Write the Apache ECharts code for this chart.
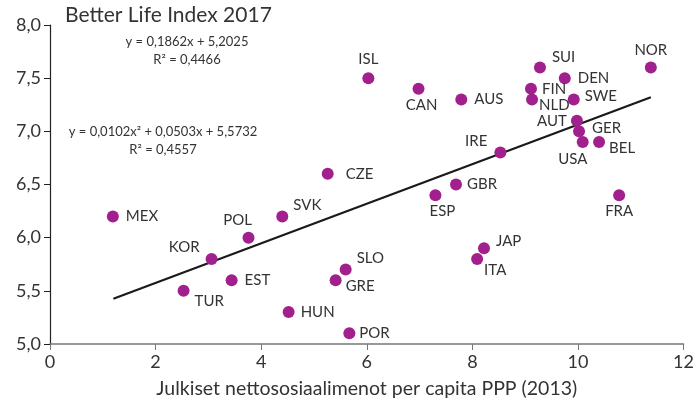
<!DOCTYPE html>
<html>
<head>
<meta charset="utf-8">
<script src="https://cdn.jsdelivr.net/npm/echarts@6/dist/echarts.min.js"></script>
<style>
  html, body { margin: 0; padding: 0; background: #fff; }
  #chart { width: 697px; height: 406px; }
</style>
</head>
<body>
<div id="chart"></div>
<script>
// maat ja arvot luettu kuvasta
const countries = ["MEX", "TUR", "KOR", "EST", "POL", "SVK", "HUN", "CZE", "GRE", "SLO",
  "POR", "ISL", "CAN", "AUS", "ESP", "GBR", "IRE", "ITA", "JAP", "FIN",
  "NLD", "SUI", "DEN", "SWE", "AUT", "GER", "USA", "BEL", "FRA", "NOR"];
const spending = [1.19, 2.53, 3.06, 3.44, 3.76, 4.40, 4.52, 5.26, 5.41, 5.60,
  5.67, 6.03, 6.98, 7.79, 7.30, 7.69, 8.53, 8.09, 8.22, 9.11,
  9.13, 9.28, 9.75, 9.92, 9.98, 10.02, 10.09, 10.40, 10.78, 11.38];
const lifeIndex = [6.2, 5.5, 5.8, 5.6, 6.0, 6.2, 5.3, 6.6, 5.6, 5.7,
  5.1, 7.5, 7.4, 7.3, 6.4, 6.5, 6.8, 5.8, 5.9, 7.4,
  7.3, 7.6, 7.5, 7.3, 7.1, 7.0, 6.9, 6.9, 6.4, 7.6];
// lineaarinen trendi: y = 0,1862x + 5,2025
const trendX = [1.2, 11.38];
const trendY = [5.426, 7.321];
const xTicks = [0, 2, 4, 6, 8, 10, 12];
const yTicks = [5.0, 5.5, 6.0, 6.5, 7.0, 7.5, 8.0];

// label placement per country: [position, dx, dy]
const labelPlace = {
  MEX: ["right", 3, 0], TUR: ["right", 1, 10], KOR: ["left", -2, -12], EST: ["right", 3, 0],
  POL: ["top", -11, 0], SVK: ["right", 1, -11], HUN: ["right", 2, 0], CZE: ["right", 8, 0],
  GRE: ["right", 0, 6], SLO: ["right", 1, -11], POR: ["right", 0, 0], ISL: ["top", 0, -2],
  CAN: ["bottom", 3, -1], AUS: ["right", 3, 0], ESP: ["bottom", 7, -1], GBR: ["right", 1, 0],
  IRE: ["left", -3, -11], ITA: ["right", -3, 11], JAP: ["right", 2, -7], FIN: ["right", 1, 0],
  NLD: ["right", -3, 6], SUI: ["right", 2, -10], DEN: ["right", 3, 0], SWE: ["right", 1, -3],
  AUT: ["left", 0, 0], GER: ["right", 3, -3], USA: ["bottom", -10, 0], BEL: ["right", 0, 6],
  FRA: ["bottom", 0, -1], NOR: ["top", 0, 0]
};

const font = "Lato, 'Noto Sans', sans-serif";
const points = countries.map((c, i) => {
  const p = labelPlace[c];
  return {
    value: [spending[i], lifeIndex[i]],
    name: c,
    label: { position: p[0], offset: [p[1], p[2]] }
  };
});

const chart = echarts.init(document.getElementById("chart"));
chart.setOption({
  animation: false,
  textStyle: { fontFamily: font },
  grid: { left: 50, right: 12, top: 25, bottom: 62 },
  xAxis: {
    type: "value",
    min: xTicks[0], max: xTicks[xTicks.length - 1], interval: 2,
    splitLine: { show: false },
    axisLine: { onZero: false, lineStyle: { color: "#777", width: 1.5 } },
    axisTick: { show: true, length: 6, lineStyle: { color: "#777" } },
    axisLabel: { color: "#333", fontSize: 18, margin: 9, fontFamily: font },
    name: "Julkiset nettososiaalimenot per capita PPP (2013)",
    nameLocation: "middle",
    nameGap: 35,
    nameTextStyle: { color: "#333", fontSize: 19.5, fontFamily: font }
  },
  yAxis: {
    type: "value",
    min: yTicks[0], max: yTicks[yTicks.length - 1], interval: 0.5,
    splitLine: { show: false },
    axisLine: { onZero: false, lineStyle: { color: "#222", width: 1.2 } },
    axisTick: { show: true, length: 6, lineStyle: { color: "#222" } },
    axisLabel: {
      color: "#333", fontSize: 18, margin: 9, fontFamily: font,
      formatter: v => v.toFixed(1).replace(".", ",")
    }
  },
  graphic: [
    { type: "text", left: 65, top: 5, style: { text: "Better Life Index 2017", font: "21px " + font, fill: "#333" } },
    { type: "text", x: 187, y: 42, style: { text: "y = 0,1862x + 5,2025", font: "13px " + font, fill: "#333", align: "center", verticalAlign: "middle" } },
    { type: "text", x: 187, y: 60, style: { text: "R² = 0,4466", font: "13px " + font, fill: "#333", align: "center", verticalAlign: "middle" } },
    { type: "text", x: 163, y: 132, style: { text: "y = 0,0102x² + 0,0503x + 5,5732", font: "13px " + font, fill: "#333", align: "center", verticalAlign: "middle" } },
    { type: "text", x: 163, y: 150, style: { text: "R² = 0,4557", font: "13px " + font, fill: "#333", align: "center", verticalAlign: "middle" } }
  ],
  series: [
    {
      type: "line",
      data: trendX.map((x, i) => [x, trendY[i]]),
      symbol: "none",
      lineStyle: { color: "#1a1a1a", width: 2.2 },
      z: 1
    },
    {
      type: "scatter",
      data: points,
      symbolSize: 12,
      itemStyle: { color: "#A2208D", opacity: 1 },
      label: {
        show: true,
        formatter: p => p.name,
        color: "#333",
        fontSize: 15,
        fontFamily: font,
        distance: 4
      },
      z: 2
    }
  ]
});
</script>
</body>
</html>
